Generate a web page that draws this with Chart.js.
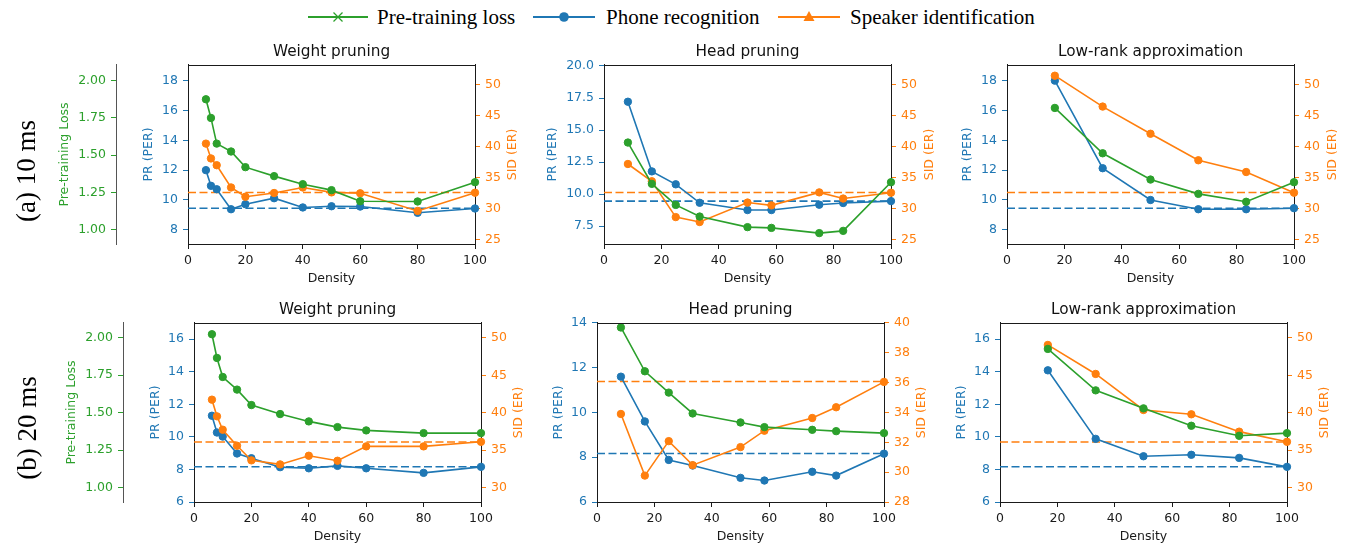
<!DOCTYPE html>
<html><head><meta charset="utf-8">
<script src="https://cdn.jsdelivr.net/npm/chart.js@4"></script>
<style>
html,body{margin:0;padding:0;background:#fff;overflow:hidden;width:1347px;height:543px;}
#root{position:relative;width:1347px;height:543px;}
canvas{position:absolute;}
.rowlab{position:absolute;font-family:'Liberation Serif','Times New Roman',serif;font-size:27px;white-space:nowrap;transform:translate(-50%,-50%) rotate(-90deg);color:#000;z-index:5;}
.legtxt{position:absolute;font-family:'Liberation Serif','Times New Roman',serif;font-size:21px;line-height:26px;top:4px;white-space:nowrap;color:#000;}
.legsvg{position:absolute;top:7px;}
</style></head><body><div id="root">
<svg class="legsvg" style="left:305px" width="66" height="20"><line x1="3" y1="10" x2="63" y2="10" stroke="#2ca02c" stroke-width="2.2"/><line x1="28.5" y1="5.5" x2="37.5" y2="14.5" stroke="#2ca02c" stroke-width="1.3"/><line x1="28.5" y1="14.5" x2="37.5" y2="5.5" stroke="#2ca02c" stroke-width="1.3"/></svg>
<div class="legtxt" style="left:377px">Pre-training loss</div>
<svg class="legsvg" style="left:531px" width="66" height="20"><line x1="2" y1="10" x2="64" y2="10" stroke="#1f77b4" stroke-width="2.2"/><circle cx="33" cy="10" r="4.8" fill="#1f77b4"/></svg>
<div class="legtxt" style="left:606px">Phone recognition</div>
<svg class="legsvg" style="left:776px" width="66" height="20"><line x1="2" y1="10" x2="64" y2="10" stroke="#ff7f0e" stroke-width="2.2"/><polygon points="33,4 27.5,14 38.5,14" fill="#ff7f0e"/></svg>
<div class="legtxt" style="left:850px">Speaker identification</div>
<div class="rowlab" style="left:26px;top:171px">(a) 10 ms</div>
<div class="rowlab" style="left:27px;top:428px">(b) 20 ms</div>
</div>
<script>
// ---------------- DATA ----------------
const panelTitles = ['Weight pruning', 'Head pruning', 'Low-rank approximation'];
const rowLabels = ['(a) 10 ms', '(b) 20 ms'];

const densityWeight = [6.25, 8, 10, 15, 20, 30, 40, 50, 60, 80, 100];
const densityHead = [8.33, 16.67, 25, 33.33, 50, 58.33, 75, 83.33, 100];
const densityLowRank = [16.67, 33.33, 50, 66.67, 83.33, 100];

// 10 ms
const wp10Loss = [1.875, 1.75, 1.578, 1.525, 1.42, 1.36, 1.306, 1.266, 1.192, 1.19, 1.319];
const wp10Per  = [12.0, 10.95, 10.72, 9.38, 9.72, 10.12, 9.5, 9.58, 9.56, 9.14, 9.43];
const wp10Sid  = [40.5, 38.1, 37.0, 33.4, 31.9, 32.5, 33.4, 32.6, 32.45, 29.6, 32.55];
const hp10Loss = [1.585, 1.308, 1.167, 1.089, 1.018, 1.013, 0.978, 0.993, 1.319];
const hp10Per  = [17.21, 11.77, 10.76, 9.32, 8.75, 8.75, 9.17, 9.3, 9.45];
const hp10Sid  = [37.2, 34.4, 28.6, 27.8, 30.95, 30.5, 32.6, 31.6, 32.55];
const lr10Loss = [1.817, 1.513, 1.337, 1.241, 1.188, 1.319];
const lr10Per  = [18.0, 12.13, 10.0, 9.38, 9.38, 9.45];
const lr10Sid  = [51.5, 46.5, 42.1, 37.8, 35.9, 32.55];
const base10Per = 9.45;
const base10Sid = 32.57;

// 20 ms
const wp20Loss = [2.022, 1.864, 1.737, 1.653, 1.55, 1.49, 1.441, 1.403, 1.381, 1.363, 1.363];
const wp20Per  = [11.3, 10.27, 10.02, 8.98, 8.69, 8.14, 8.07, 8.22, 8.07, 7.79, 8.16];
const wp20Sid  = [41.74, 39.51, 37.72, 35.58, 33.62, 33.08, 34.24, 33.57, 35.49, 35.49, 36.1];
const hp20Loss = [2.067, 1.775, 1.633, 1.494, 1.434, 1.403, 1.385, 1.376, 1.363];
const hp20Per  = [11.6, 9.6, 7.88, 7.63, 7.08, 6.96, 7.35, 7.18, 8.16];
const hp20Sid  = [33.9, 29.77, 32.08, 30.47, 31.68, 32.78, 33.63, 34.35, 36.05];
const lr20Loss = [1.924, 1.648, 1.528, 1.412, 1.345, 1.363];
const lr20Per  = [14.09, 9.88, 8.81, 8.9, 8.71, 8.16];
const lr20Sid  = [49.06, 45.18, 40.36, 39.78, 37.46, 36.1];
const base20Per = 8.17;
const base20Sid = 36.08;

// axis ranges / ticks
const xRange = [0, 100];
const xTicks = [0, 20, 40, 60, 80, 100];
const lossRange10 = [0.905, 2.105];
const lossRange20 = [0.904, 2.097];
const lossTicks = [1.0, 1.25, 1.5, 1.75, 2.0];
const perRange10 = [7.05, 19.05];
const perTicks10 = [8, 10, 12, 14, 16, 18];
const perRangeHead10 = [6.1, 20.08];
const perTicksHead10 = [7.5, 10, 12.5, 15, 17.5, 20];
const sidRange10 = [24.24, 53.24];
const sidTicks10 = [25, 30, 35, 40, 45, 50];
const perRange20 = [6, 17];
const perTicks20 = [6, 8, 10, 12, 14, 16];
const perRangeHead20 = [6, 14];
const perTicksHead20 = [6, 8, 10, 12, 14];
const sidRange20 = [28.05, 52];
const sidTicks20 = [30, 35, 40, 45, 50];
const sidRangeHead20 = [28, 40];
const sidTicksHead20 = [28, 30, 32, 34, 36, 38, 40];

// ---------------- STYLE ----------------
const BLUE = '#1f77b4', ORANGE = '#ff7f0e', GREEN = '#2ca02c', INK = '#1a1a1a';
const FAMILY = "'DejaVu Sans', sans-serif";
Chart.defaults.font.family = FAMILY;
const TICKFONT = 12.5, LABFONT = 12.5, TITLEFONT = 15.3;
const LH = LABFONT * 1.2;

const frame = {
  id: 'frame',
  afterDraw(chart) {
    const {ctx, chartArea: a} = chart;
    ctx.save();
    ctx.strokeStyle = INK; ctx.lineWidth = 1;
    ctx.beginPath();
    ctx.moveTo(a.left, Math.round(a.top) + 0.5);
    ctx.lineTo(a.right, Math.round(a.top) + 0.5);
    ctx.stroke();
    ctx.restore();
  }
};

// right-hand axis title, rotated like matplotlib (reads bottom to top)
const rightTitle = {
  id: 'rightTitle',
  afterDraw(chart, args, opts) {
    const s = chart.scales[opts.axis];
    const ctx = chart.ctx;
    ctx.save();
    ctx.fillStyle = opts.color;
    ctx.font = LABFONT + 'px ' + FAMILY;
    ctx.textAlign = 'center'; ctx.textBaseline = 'middle';
    ctx.translate(opts.x, (s.top + s.bottom) / 2);
    ctx.rotate(-Math.PI / 2);
    ctx.fillText(opts.text, 0, 0);
    ctx.restore();
  }
};

function pts(xs, ys) { return xs.map((x, i) => ({x, y: ys[i]})); }
function hline(v) { return [{x: xRange[0], y: v}, {x: xRange[1], y: v}]; }

function series(data, axis, color) {
  return {data, yAxisID: axis, borderColor: color, backgroundColor: color, borderWidth: 1.6,
    pointRadius: 3.7, pointHoverRadius: 3.7, pointBorderWidth: 1, pointBorderColor: color,
    pointBackgroundColor: color, tension: 0, clip: false, fill: false};
}
function dashed(v, axis, color) {
  return {data: hline(v), yAxisID: axis, borderColor: color, borderWidth: 1.6, borderDash: [8, 3.5],
    pointRadius: 0, pointHoverRadius: 0, tension: 0, fill: false};
}

function yAxis(o) {
  const ax = {
    type: 'linear', position: o.pos, min: o.range[0], max: o.range[1], display: o.display !== false,
    weight: o.weight || 0,
    afterBuildTicks: s => { s.ticks = o.ticks.map(v => ({value: v})); },
    grid: {display: true, drawOnChartArea: false, drawTicks: true, tickLength: 5, tickColor: o.color, tickWidth: 1},
    border: {display: true, color: o.borderColor || INK, width: 1},
    ticks: {color: o.color, font: {size: TICKFONT}, padding: 5, autoSkip: false, callback: v => v.toFixed(o.dec)},
    title: {display: o.showTitle !== false, text: o.title, color: o.color, font: {size: LABFONT}, padding: {top: o.titlePad, bottom: 0}}
  };
  if (o.display !== false) ax.afterFit = s => { s.width = o.width; };
  return ax;
}

const TITLE_H = 22, BOTTOM_H = 42, RIGHT_W = 50, BLUE_W = 65, CANVAS_L0 = 30;

function makePanel(p) {
  const plotW = p.right - p.left, plotH = p.bottom - p.top;
  let canvasLeft, blueW, lossW = 0;
  if (p.lossSpine) {
    canvasLeft = CANVAS_L0; lossW = p.lossSpine - canvasLeft; blueW = p.left - p.lossSpine;
  } else {
    blueW = BLUE_W; canvasLeft = p.left - blueW;
  }
  const W = lossW + blueW + plotW + RIGHT_W;
  const H = TITLE_H + plotH + BOTTOM_H;
  const cv = document.createElement('canvas');
  cv.width = W; cv.height = H;
  cv.style.left = canvasLeft + 'px'; cv.style.top = (p.top - TITLE_H) + 'px';
  cv.style.width = W + 'px'; cv.style.height = H + 'px';
  document.getElementById('root').appendChild(cv);

  const blueBoxLeft = p.left - blueW;
  const scales = {
    x: {
      type: 'linear', position: 'bottom', min: xRange[0], max: xRange[1],
      afterBuildTicks: s => { s.ticks = xTicks.map(v => ({value: v})); },
      afterFit: s => { s.height = BOTTOM_H; },
      grid: {display: true, drawOnChartArea: false, drawTicks: true, tickLength: 5, tickColor: INK, tickWidth: 1},
      border: {display: true, color: INK, width: 1},
      ticks: {color: INK, font: {size: TICKFONT}, padding: 4, maxRotation: 0, autoSkip: false},
      title: {display: true, text: 'Density', color: INK, font: {size: LABFONT}, padding: {top: 0, bottom: 0}}
    },
    yPer: yAxis({pos: 'left', color: BLUE, range: p.perRange, ticks: p.perTicks, dec: p.perDec,
      title: 'PR (PER)', width: blueW, titlePad: p.blueTitleX - blueBoxLeft - LH / 2, weight: 0}),
    ySid: yAxis({pos: 'right', color: ORANGE, range: p.sidRange, ticks: p.sidTicks, dec: 0,
      title: 'SID (ER)', width: RIGHT_W, titlePad: 0, weight: 0, showTitle: false}),
    yLoss: yAxis({pos: 'left', color: GREEN, range: p.lossRange, ticks: lossTicks, dec: 2,
      title: 'Pre-training Loss', width: lossW, titlePad: p.lossTitleX ? p.lossTitleX - canvasLeft - LH / 2 : 0,
      weight: 10, display: !!p.lossSpine, borderColor: '#555'})
  };

  new Chart(cv, {
    type: 'line',
    data: {
      datasets: [
        series(pts(p.dens, p.loss), 'yLoss', GREEN),
        series(pts(p.dens, p.sid), 'ySid', ORANGE),
        series(pts(p.dens, p.per), 'yPer', BLUE),
        dashed(p.baseSid, 'ySid', ORANGE),
        dashed(p.basePer, 'yPer', BLUE)
      ]
    },
    options: {
      responsive: false, maintainAspectRatio: false, animation: false, devicePixelRatio: 1,
      layout: {padding: 0},
      events: [],
      plugins: {
        legend: {display: false}, tooltip: {enabled: false},
        title: {display: true, fullSize: false, text: p.title, color: '#111',
          font: {size: TITLEFONT, weight: 'normal'}, padding: {top: 0, bottom: 3.6}},
        rightTitle: {axis: 'ySid', text: 'SID (ER)', color: ORANGE, x: p.sidTitleX - canvasLeft}
      },
      scales
    },
    plugins: [frame, rightTitle]
  });
}

const panels = [
  {title: panelTitles[0], dens: densityWeight, loss: wp10Loss, per: wp10Per, sid: wp10Sid, basePer: base10Per, baseSid: base10Sid,
   left: 188, right: 475, top: 65, bottom: 244, lossSpine: 116, lossTitleX: 65, blueTitleX: 149, sidTitleX: 513,
   lossRange: lossRange10, perRange: perRange10, perTicks: perTicks10, perDec: 0, sidRange: sidRange10, sidTicks: sidTicks10},
  {title: panelTitles[1], dens: densityHead, loss: hp10Loss, per: hp10Per, sid: hp10Sid, basePer: base10Per, baseSid: base10Sid,
   left: 604, right: 891, top: 65, bottom: 244, blueTitleX: 553, sidTitleX: 930,
   lossRange: lossRange10, perRange: perRangeHead10, perTicks: perTicksHead10, perDec: 1, sidRange: sidRange10, sidTicks: sidTicks10},
  {title: panelTitles[2], dens: densityLowRank, loss: lr10Loss, per: lr10Per, sid: lr10Sid, basePer: base10Per, baseSid: base10Sid,
   left: 1007, right: 1294, top: 65, bottom: 244, blueTitleX: 968, sidTitleX: 1333,
   lossRange: lossRange10, perRange: perRange10, perTicks: perTicks10, perDec: 0, sidRange: sidRange10, sidTicks: sidTicks10},
  {title: panelTitles[0], dens: densityWeight, loss: wp20Loss, per: wp20Per, sid: wp20Sid, basePer: base20Per, baseSid: base20Sid,
   left: 194, right: 481, top: 323, bottom: 502, lossSpine: 123, lossTitleX: 72, blueTitleX: 156, sidTitleX: 519,
   lossRange: lossRange20, perRange: perRange20, perTicks: perTicks20, perDec: 0, sidRange: sidRange20, sidTicks: sidTicks20},
  {title: panelTitles[1], dens: densityHead, loss: hp20Loss, per: hp20Per, sid: hp20Sid, basePer: base20Per, baseSid: base20Sid,
   left: 597, right: 884, top: 323, bottom: 502, blueTitleX: 559, sidTitleX: 922,
   lossRange: lossRange20, perRange: perRangeHead20, perTicks: perTicksHead20, perDec: 0, sidRange: sidRangeHead20, sidTicks: sidTicksHead20},
  {title: panelTitles[2], dens: densityLowRank, loss: lr20Loss, per: lr20Per, sid: lr20Sid, basePer: base20Per, baseSid: base20Sid,
   left: 1000, right: 1287, top: 323, bottom: 502, blueTitleX: 962, sidTitleX: 1325,
   lossRange: lossRange20, perRange: perRange20, perTicks: perTicks20, perDec: 0, sidRange: sidRange20, sidTicks: sidTicks20}
];

panels.forEach(makePanel);
</script>
</body></html>
